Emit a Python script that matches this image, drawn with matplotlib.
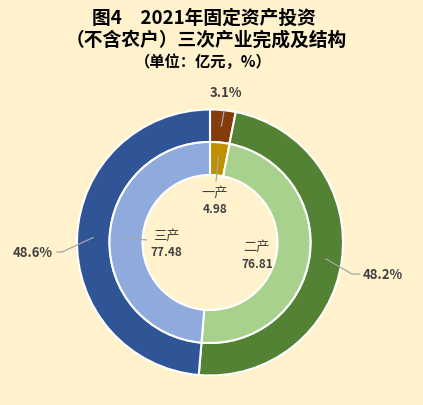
import numpy as np
import matplotlib
matplotlib.use('Agg')
from matplotlib import pyplot as plt

plt.rcParams['font.family'] = ['Noto Sans CJK SC', 'DejaVu Sans']

# data
industries = ['一产', '二产', '三产']
invest_values = [4.98, 76.81, 77.48]      # 亿元, inner ring
invest_shares = [3.1, 48.2, 48.6]         # %, outer ring

outer_colors = ['#843C0C', '#548235', '#2F5597']
inner_colors = ['#BF9000', '#A9D18E', '#8FAADC']
bg = '#FFF2CC'
txt_color = '#404040'
line_color = '#A6A6A6'

W, H = 423, 406
fig = plt.figure(figsize=(W / 100, H / 100), dpi=100, facecolor=bg)
ax = fig.add_axes([0, 0, 1, 1])
ax.set_facecolor(bg)

cx, cy = 210, H - 243.5
r_out, r_mid, r_in = 133, 100.5, 67.5

ax.pie(invest_shares, radius=r_out, center=(cx, cy), startangle=90, counterclock=False,
       colors=outer_colors, wedgeprops=dict(width=r_out - r_mid, edgecolor='white', linewidth=1.5))
ax.pie(invest_values, radius=r_mid, center=(cx, cy), startangle=90, counterclock=False,
       colors=inner_colors, wedgeprops=dict(width=r_mid - r_in, edgecolor='white', linewidth=1.5))
ax.set_xlim(0, W)
ax.set_ylim(0, H)
ax.set_aspect('equal')
ax.axis('off')


def mid_angles(vals):
    frac = np.array(vals) / np.sum(vals)
    cum = np.cumsum(frac) - frac / 2
    return np.deg2rad(90 - 360 * cum)


def pt(theta, r):
    return cx + r * np.cos(theta), cy + r * np.sin(theta)


# outer labels with leader lines
th = mid_angles(invest_shares)
outer_lbl = [((226, H - 93), [(224, H - 112)]),
             ((383, H - 275), [(352, H - 275), (360, H - 275)]),
             ((33, H - 253), [(62, H - 253), (57, H - 253)])]
for i, (pos, pts) in enumerate(outer_lbl):
    p0 = pt(th[i], 117)
    xs = [p0[0]] + [p[0] for p in pts]
    ys = [p0[1]] + [p[1] for p in pts]
    ax.plot(xs, ys, color=line_color, lw=0.9)
    ax.text(pos[0], pos[1], f'{invest_shares[i]:.1f}%', ha='center', va='center',
            fontsize=9.5, fontweight='bold', color=txt_color)

# inner labels
th_in = mid_angles(invest_values)
inner_pos = [(215, H - 193), (257, H - 247), (166, H - 236)]
for i, (x, y) in enumerate(inner_pos):
    ax.text(x, y, industries[i], ha='center', va='center', fontsize=9.5, color=txt_color)
    ax.text(x, y - 17, f'{invest_values[i]:.2f}', ha='center', va='center',
            fontsize=8.5, fontweight='bold', color=txt_color)
# short leader lines for 一产 and 三产
for i, r1 in [(0, 62), (2, 64)]:
    a = pt(th_in[i], 86)
    b = pt(th_in[i], r1)
    ax.plot([a[0], b[0]], [a[1], b[1]], color=line_color, lw=0.9)

# title
ax.text(204, H - 18, '图4　2021年固定资产投资', ha='center', va='center',
        fontsize=13.5, fontweight='bold', color='black')
ax.text(206, H - 40, '（不含农户）三次产业完成及结构', ha='center', va='center',
        fontsize=13.5, fontweight='bold', color='black')
ax.text(203, H - 62, '（单位：亿元，%）', ha='center', va='center',
        fontsize=11, fontweight='bold', color='black')

fig.savefig('out.png', dpi=100, facecolor=bg)
